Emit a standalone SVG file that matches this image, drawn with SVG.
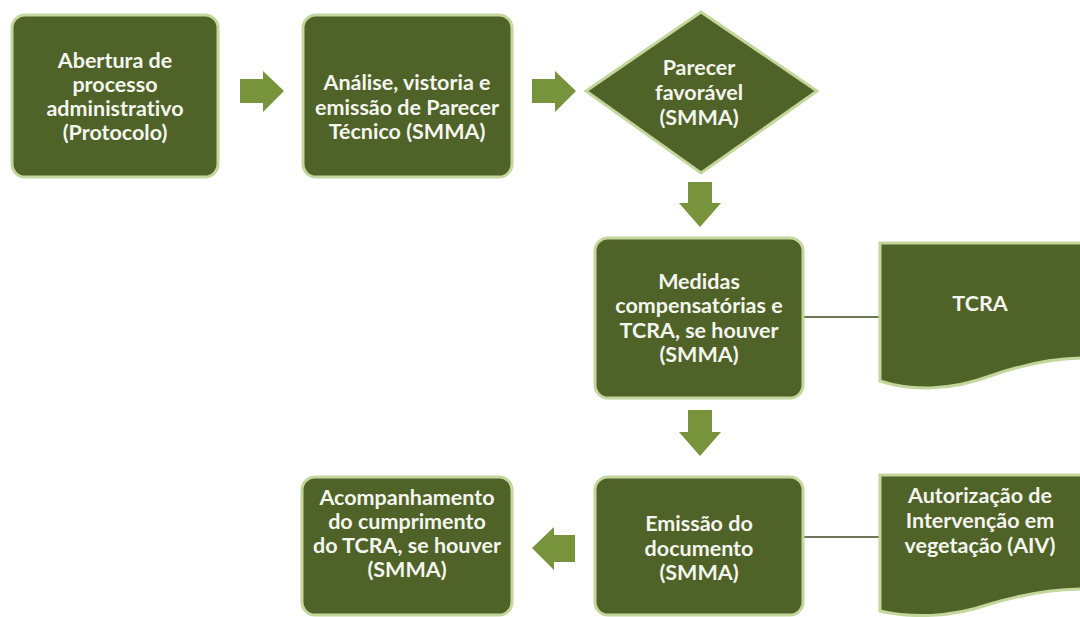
<svg xmlns="http://www.w3.org/2000/svg" width="1080" height="617" viewBox="0 0 1080 617">
<style>
.box{fill:#4f6228;stroke:#c3d69b;stroke-width:3}
.arr{fill:#77933c}
.t{font-family:Lato,"Open Sans","DejaVu Sans",sans-serif;font-weight:bold;font-size:21.5px;fill:#f5f5ef;text-anchor:middle;font-variant-ligatures:none;font-feature-settings:"liga" 0,"dlig" 0}
.ln{stroke:#3b4a1e;stroke-width:1.3;fill:none}
</style>
<rect width="1080" height="617" fill="#ffffff"/>
<g id="connectors">
<polygon class="arr" points="240,79 263,79 263,71 284,91 263,112 263,103 240,103"/>
<polygon class="arr" points="532,79 555,79 555,71 576,91 555,112 555,103 532,103"/>
<polygon class="arr" points="688,182 712,182 712,203 721,203 700,227 679,203 688,203"/>
<polygon class="arr" points="688,410 712,410 712,432 721,432 700,456 679,432 688,432"/>
<polygon class="arr" points="575,535 554,535 554,527 532,548 554,570 554,562 575,562"/>
<line class="ln" x1="803" y1="317" x2="880" y2="317"/>
<line class="ln" x1="803" y1="537" x2="880" y2="537"/>
</g>
<g id="n1">
<rect class="box" x="12" y="15" width="206" height="162" rx="13"/>
<text class="t" x="115" y="68">Abertura de</text>
<text class="t" x="115" y="92">processo</text>
<text class="t" x="115" y="116">administrativo</text>
<text class="t" x="115" y="140">(Protocolo)</text>
</g>
<g id="n2">
<rect class="box" x="303" y="15" width="209" height="162" rx="13"/>
<text class="t" x="407" y="90">Análise, vistoria e</text>
<text class="t" x="407" y="115">emissão de Parecer</text>
<text class="t" x="407" y="139">Técnico (SMMA)</text>
</g>
<g id="n3">
<polygon class="box" points="701,12 817,91 701,173 586,91"/>
<text class="t" x="699" y="75">Parecer</text>
<text class="t" x="699" y="100">favorável</text>
<text class="t" x="699" y="125">(SMMA)</text>
</g>
<g id="n4">
<rect class="box" x="595" y="238" width="208" height="160" rx="13"/>
<text class="t" x="699" y="289">Medidas</text>
<text class="t" x="699" y="313">compensatórias e</text>
<text class="t" x="699" y="338">TCRA, se houver</text>
<text class="t" x="699" y="362">(SMMA)</text>
</g>
<g id="n5">
<path class="box" d="M880,243 H1086 V358 C1060,358 1030,362 990,376 C950,391 910,391 880,381 Z"/>
<text class="t" x="980" y="311">TCRA</text>
</g>
<g id="n6">
<rect class="box" x="595" y="477" width="208" height="138" rx="13"/>
<text class="t" x="699" y="531">Emissão do</text>
<text class="t" x="699" y="556">documento</text>
<text class="t" x="699" y="580">(SMMA)</text>
</g>
<g id="n7">
<path class="box" d="M880,475 H1086 V589 C1060,589 1030,592 990,604 C950,618 910,618 880,611 Z"/>
<text class="t" x="980" y="503">Autorização de</text>
<text class="t" x="980" y="528">Intervenção em</text>
<text class="t" x="980" y="553">vegetação (AIV)</text>
</g>
<g id="n8">
<rect class="box" x="302" y="477" width="210" height="138" rx="13"/>
<text class="t" x="407" y="505">Acompanhamento</text>
<text class="t" x="407" y="529">do cumprimento</text>
<text class="t" x="407" y="553">do TCRA, se houver</text>
<text class="t" x="407" y="577">(SMMA)</text>
</g>
</svg>
